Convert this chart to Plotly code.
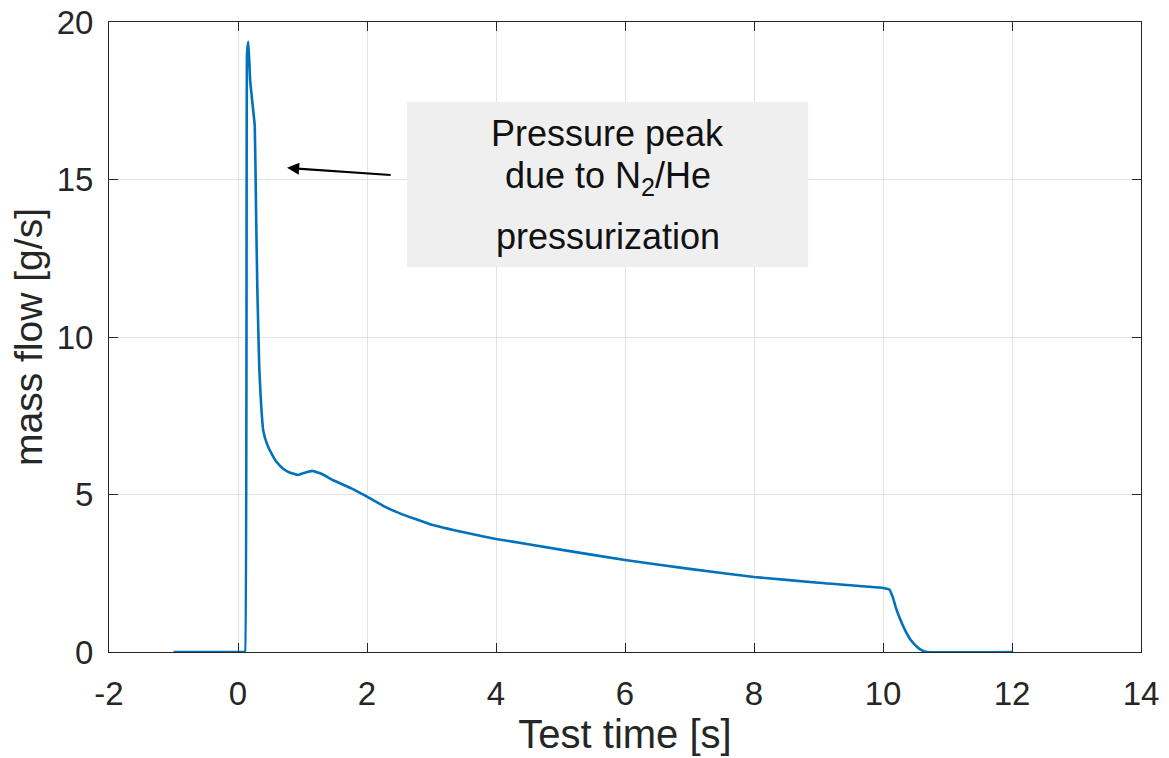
import plotly.graph_objects as go

# Measured mass flow during the test run
time_s = [-1.0, 0.10, 0.11, 0.14, 0.16, 0.19, 0.23, 0.26, 0.28, 0.30, 0.33, 0.36,
          0.39, 0.45, 0.52, 0.60, 0.70, 0.80, 0.93, 1.05, 1.15, 1.30, 1.47, 1.75,
          2.00, 2.25, 2.51, 3.02, 3.50, 4.00, 5.00, 6.00, 7.00, 8.00, 9.00, 10.00,
          10.10, 10.15, 10.20, 10.27, 10.34, 10.43, 10.53, 10.60, 10.68, 12.0]
mass_flow = [0.0, 0.0, 0.0, 19.0, 19.37, 18.1, 17.3, 16.7, 14.0, 11.5, 9.0, 7.8,
             7.05, 6.6, 6.3, 6.03, 5.82, 5.70, 5.62, 5.70, 5.75, 5.65, 5.46, 5.20,
             4.93, 4.64, 4.40, 4.03, 3.80, 3.59, 3.25, 2.92, 2.64, 2.38, 2.20, 2.03,
             1.98, 1.75, 1.40, 1.02, 0.70, 0.38, 0.16, 0.06, 0.0, 0.0]

x_ticks = [-2, 0, 2, 4, 6, 8, 10, 12, 14]
y_ticks = [0, 5, 10, 15, 20]

FONT = "Liberation Sans, Arial, Helvetica, sans-serif"
INK = "#262626"

fig = go.Figure()
fig.add_trace(go.Scatter(
    x=time_s, y=mass_flow, mode="lines",
    line=dict(color="#0072BD", width=2.6, shape="spline", smoothing=0.3),
    showlegend=False, hoverinfo="x+y",
))

axis_common = dict(
    showline=True, linecolor=INK, linewidth=1, mirror="ticks",
    ticks="inside", ticklen=9, tickcolor=INK, tickwidth=1,
    showgrid=True, gridcolor="#E3E3E3", gridwidth=1,
    zeroline=False, tickfont=dict(family=FONT, size=33, color=INK),
)

fig.update_xaxes(
    range=[-2, 14], tickvals=x_ticks, ticktext=[str(v) for v in x_ticks],
    ticklabelstandoff=12,
    title=dict(text="Test time [s]", font=dict(family=FONT, size=40, color=INK), standoff=4),
    **axis_common,
)
fig.update_yaxes(
    range=[0, 20], tickvals=y_ticks, ticktext=[str(v) for v in y_ticks],
    ticklabelstandoff=8,
    title=dict(text="mass flow [g/s]", font=dict(family=FONT, size=39, color=INK), standoff=2),
    **axis_common,
)

# Text box with the explanatory note
fig.add_shape(type="rect", xref="x", yref="y", x0=2.62, x1=8.84, y0=12.22, y1=17.46,
              fillcolor="#EFEFEF", line=dict(width=0), layer="above")

note_lines = [("Pressure peak", 16.45), ("due to N<sub>2</sub>/He", 15.05), ("pressurization", 13.2)]
for txt, yv in note_lines:
    fig.add_annotation(x=5.73, y=yv, xref="x", yref="y", text=txt, showarrow=False,
                       font=dict(family=FONT, size=36, color="#111111"),
                       xanchor="center", yanchor="middle")

# Arrow pointing at the peak
fig.add_annotation(x=0.76, y=15.37, ax=2.39, ay=15.14, xref="x", yref="y",
                   axref="x", ayref="y", text="", showarrow=True,
                   arrowhead=2, arrowsize=1.1, arrowwidth=2.2, arrowcolor="#000000")

fig.update_layout(
    width=1169, height=758,
    margin=dict(l=109, r=28, t=22, b=106, autoexpand=False),
    paper_bgcolor="white", plot_bgcolor="white",
    font=dict(family=FONT, color=INK),
)

fig.write_html("out.html")
